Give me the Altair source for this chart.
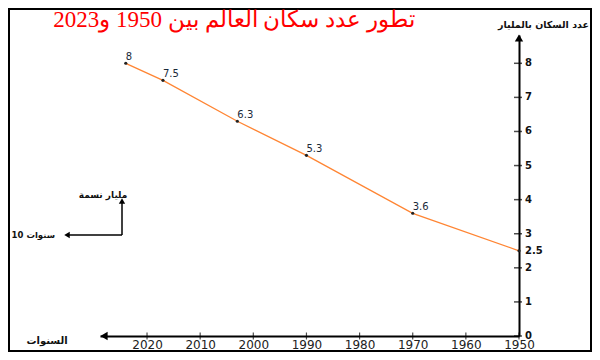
import altair as alt
import pandas as pd

# ---- data ----
years = [1950, 1970, 1990, 2003, 2017, 2024]
population = [2.5, 3.6, 5.3, 6.3, 7.5, 8]
point_labels = ["2.5", "3.6", "5.3", "6.3", "7.5", "8"]
x_ticks = [1950, 1960, 1970, 1980, 1990, 2000, 2010, 2020]
y_ticks = [0, 1, 2, 3, 4, 5, 6, 7, 8]
y_labels = [0, 1, 2, 2.5, 3, 4, 5, 6, 7, 8]
y_label_text = ["0", "1", "2", "2.5", "3", "4", "5", "6", "7", "8"]
title_text = "تطور عدد سكان العالم بين 1950 و2023"
y_title = "عدد السكان بالمليار"
x_title = "السنوات"
key_y_text = "مليار نسمة"
key_x_text = "10 سنوات"

W, H = 419, 301
PAD = {"left": 92, "top": 27, "right": 73, "bottom": 16}
xs = alt.Scale(domain=[1950, 2028.85], reverse=True, nice=False, zero=False)
ys = alt.Scale(domain=[0, 8.83], nice=False, zero=True)

df = pd.DataFrame({"year": years, "pop": population, "label": point_labels})
one = pd.DataFrame({"a": [0]})

x_axis = alt.Axis(values=x_ticks, format="d", title=None, domainColor="black",
                  domainWidth=2, tickSize=0, ticks=False, labelFont="DejaVu Sans",
                  labelFontSize=12, labelColor="#222", labelPadding=3, grid=False,
                  labelFlush=False, labelOverlap=False)
y_axis = alt.Axis(orient="right", title=None, domainColor="black", domainWidth=2,
                  ticks=False, labels=False, grid=False)


def X(field):
    return alt.X(field, scale=xs, axis=x_axis)


def Y(field):
    return alt.Y(field, scale=ys, axis=y_axis)


base = alt.Chart(df)
line = base.mark_line(color="#ff8533", strokeWidth=1.3).encode(
    x=X("year:Q"), y=Y("pop:Q"))
pts = base.mark_point(filled=True, color="#222", size=10, opacity=1).encode(
    x=X("year:Q"), y=Y("pop:Q"))
txt = base.transform_filter("datum.year > 1950").mark_text(
    align="left", dx=0, dy=-6, fontSize=10, font="DejaVu Sans", color="#1a2a3a"
).encode(x=X("year:Q"), y=Y("pop:Q"), text="label:N")

ylab = alt.Chart(pd.DataFrame({"pop": y_labels, "t": y_label_text})).mark_text(
    align="left", baseline="middle", dx=0, fontSize=10, font="DejaVu Sans",
    fontWeight="bold", color="#111"
).encode(y=Y("pop:Q"), x=alt.value(W + 6), text="t:N")

ytk = alt.Chart(pd.DataFrame({"pop": y_ticks})).mark_tick(
    orient="horizontal", color="black", size=8, thickness=1.5
).encode(y=Y("pop:Q"), x=alt.value(W - 1))
xtk = alt.Chart(pd.DataFrame({"year": x_ticks})).mark_tick(
    orient="vertical", color="black", size=7, thickness=1.2
).encode(x=X("year:Q"), y=alt.value(H))

c1 = alt.Chart(one)
y_arrow = c1.mark_point(shape="triangle-up", filled=True, color="black", size=70, opacity=1).encode(
    x=alt.value(W), y=alt.value(3))
x_arrow = c1.mark_point(shape="triangle-left", filled=True, color="black", size=70, opacity=1).encode(
    x=alt.value(4), y=alt.value(H))

key_v = c1.mark_rule(color="black", strokeWidth=1.5).encode(
    x=alt.value(22), y=alt.value(200), y2=alt.value(166))
key_h = c1.mark_rule(color="black", strokeWidth=1.5).encode(
    x=alt.value(22), x2=alt.value(-32), y=alt.value(200))
key_va = c1.mark_point(shape="triangle-up", filled=True, color="black", size=40, opacity=1).encode(
    x=alt.value(22), y=alt.value(166))
key_ha = c1.mark_point(shape="triangle-left", filled=True, color="black", size=40, opacity=1).encode(
    x=alt.value(-33), y=alt.value(200))
key_yt = c1.mark_text(font="DejaVu Sans", fontSize=9, fontWeight="bold", color="#111",
                      align="center", baseline="middle").encode(
    x=alt.value(3), y=alt.value(160), text=alt.value(key_y_text))
key_xt = c1.mark_text(font="DejaVu Sans", fontSize=8.5, fontWeight="bold", color="#111",
                      align="right", baseline="middle").encode(
    x=alt.value(-45), y=alt.value(200), text=alt.value(key_x_text))

ttl = c1.mark_text(font="Liberation Serif", fontSize=23, color="#ff0000",
                   align="center", baseline="middle").encode(
    x=alt.value(134), y=alt.value(-15), text=alt.value(title_text))
ytl = c1.mark_text(font="DejaVu Sans", fontSize=9.5, fontWeight="bold", color="#111",
                   align="right", baseline="middle").encode(
    x=alt.value(489), y=alt.value(-10), text=alt.value(y_title))
xtl = c1.mark_text(font="DejaVu Sans", fontSize=10, fontWeight="bold", color="#111",
                   align="center", baseline="middle").encode(
    x=alt.value(-53), y=alt.value(306), text=alt.value(x_title))

frame = c1.mark_rect(fill="white", fillOpacity=0, stroke="black", strokeWidth=2).encode(
    x=alt.value(-91), x2=alt.value(491), y=alt.value(-26), y2=alt.value(316))

chart = alt.layer(
    frame, line, pts, txt, ylab, ytk, xtk, y_arrow, x_arrow,
    key_v, key_h, key_va, key_ha, key_yt, key_xt, ttl, ytl, xtl
).properties(
    width=W, height=H,
    autosize=alt.AutoSizeParams(type="none"),
    padding=PAD,
    background="white",
).configure_view(stroke=None)

chart.save("out.html", embed_options={"renderer": "svg", "actions": False})
